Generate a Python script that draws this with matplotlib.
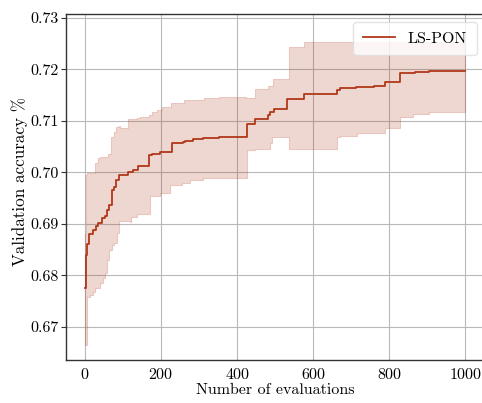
import numpy as np
import matplotlib
matplotlib.use("Agg")
import matplotlib.pyplot as plt

# Mean curve (step, post)
mean_x = [0, 2, 5, 10, 22, 30, 35, 44, 53, 57, 64, 70, 75, 82, 90, 114, 125, 140,
          169, 175, 197, 228, 257, 263, 283, 311, 351, 425, 447, 482, 487, 496,
          532, 576, 662, 669, 713, 759, 789, 829, 868, 903, 1000]
mean_y = [0.6775, 0.6840, 0.6860, 0.6880, 0.6888, 0.6895, 0.6901, 0.6911, 0.6915,
          0.6926, 0.6936, 0.6965, 0.6972, 0.6985, 0.6995, 0.7001, 0.7004, 0.7012,
          0.7033, 0.7036, 0.7040, 0.7056, 0.7058, 0.7061, 0.7064, 0.7066, 0.7069,
          0.7093, 0.7104, 0.7112, 0.7117, 0.7123, 0.7143, 0.7152, 0.7159, 0.7163,
          0.7165, 0.7167, 0.7175, 0.7192, 0.7195, 0.7197, 0.7197]

# Upper band
upper_x = [0, 3, 5, 26, 35, 40, 61, 68, 75, 82, 88, 92, 114, 136, 145, 167, 175,
           189, 202, 225, 261, 313, 351, 424, 447, 482, 493, 535, 576, 1000]
upper_y = [0.6880, 0.6995, 0.6999, 0.7018, 0.7027, 0.7030, 0.7035, 0.7069, 0.7078,
           0.7088, 0.7089, 0.7085, 0.7103, 0.7105, 0.7108, 0.7111, 0.7117, 0.7120,
           0.7126, 0.7135, 0.7141, 0.7144, 0.7146, 0.7144, 0.7162, 0.7167, 0.7181,
           0.7243, 0.7253, 0.7253]

# Lower band
lower_x = [0, 4, 12, 22, 26, 39, 46, 53, 57, 64, 70, 75, 83, 90, 118, 122, 136, 171,
           197, 224, 254, 276, 311, 425, 447, 487, 491, 535, 662, 669, 715, 789,
           827, 863, 903, 1000]
lower_y = [0.6665, 0.6759, 0.6762, 0.6767, 0.6775, 0.6785, 0.6795, 0.6805, 0.6830,
           0.6850, 0.6859, 0.6862, 0.6882, 0.6906, 0.6904, 0.6913, 0.6920, 0.6955,
           0.6959, 0.6975, 0.6980, 0.6985, 0.6988, 0.7043, 0.7046, 0.7056, 0.7069,
           0.7046, 0.7069, 0.7070, 0.7076, 0.7085, 0.7108, 0.7114, 0.7117, 0.7117]

label = "LS-PON"
color = "#b0381a"

plt.rcParams.update({
    "font.family": "serif",
    "font.serif": ["cmr10"],
    "mathtext.fontset": "cm",
    "axes.formatter.use_mathtext": True,
    "font.size": 11.5,
})

# common step grid for the band
grid = np.union1d(np.union1d(mean_x, upper_x), lower_x)
def step_eval(xs, ys, g):
    idx = np.searchsorted(np.asarray(xs), g, side="right") - 1
    return np.asarray(ys)[np.clip(idx, 0, len(ys) - 1)]
up = step_eval(upper_x, upper_y, grid)
lo = step_eval(lower_x, lower_y, grid)

fig = plt.figure(figsize=(4.82, 4.03), dpi=100)
ax = fig.add_axes([66 / 482, 43 / 403, 418.5 / 482, 346 / 403])
ax.fill_between(grid, lo, up, step="post", color=color, alpha=0.2, linewidth=0.8)
ax.step(mean_x, mean_y, where="post", color=color, linewidth=1.3, label=label)

ax.set_xlim(-50, 1050)
ax.set_ylim(0.6636, 0.7307)
ax.set_xticks([0, 200, 400, 600, 800, 1000])
ax.set_yticks([0.67, 0.68, 0.69, 0.70, 0.71, 0.72, 0.73])
ax.set_yticklabels(["0.67", "0.68", "0.69", "0.70", "0.71", "0.72", "0.73"])
ax.grid(True, color="#b8b8b8", linewidth=0.8)
ax.set_axisbelow(True)
for s in ax.spines.values():
    s.set_color("#333333")
    s.set_linewidth(1.0)
ax.tick_params(axis="y", length=3.5, width=0.8, color="#333333", pad=2)
ax.tick_params(axis="x", length=0, pad=5)
ax.set_xlabel("Number of evaluations", labelpad=1)
ax.set_ylabel("Validation accuracy %", fontsize=12.3)
ax.yaxis.set_label_coords(-0.09, 0.515)
leg = ax.legend(loc="upper right", fancybox=True, framealpha=0.8, edgecolor="#dddddd",
                borderaxespad=0.5, borderpad=0.6, bbox_to_anchor=(1.0, 1.0))
fig.savefig("out.png", dpi=100)
